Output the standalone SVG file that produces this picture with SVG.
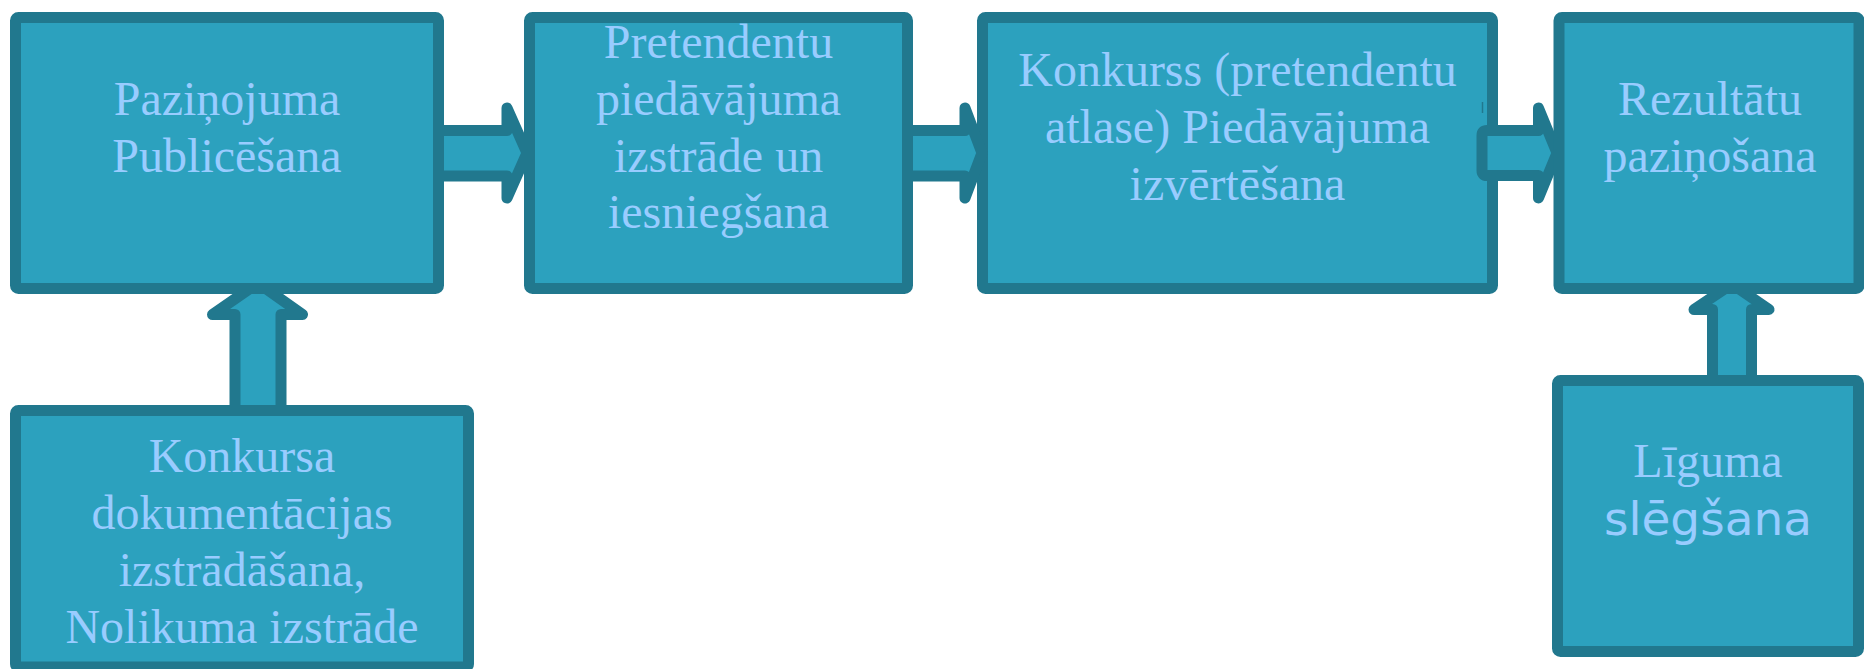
<svg xmlns="http://www.w3.org/2000/svg" width="1864" height="669" viewBox="0 0 1864 669">
<style>
.box{fill:#2CA1BE;stroke:#21788E;stroke-width:11;stroke-linejoin:round}
.arr{fill:#2CA1BE;stroke:#21788E;stroke-width:11;stroke-linejoin:round;stroke-linecap:round}
.t{font-family:"Liberation Serif","Times New Roman",serif;font-size:48px;fill:#99CCFF;text-anchor:middle}
.s{font-family:"DejaVu Sans",sans-serif;font-size:47px;fill:#99CCFF;text-anchor:middle}
</style>
<rect width="1864" height="669" fill="#FFFFFF"/>
<g id="n3"><rect class="box" x="982.5" y="17.5" width="510" height="271" rx="3"/>
<text class="t" x="1237.5" y="86">Konkurss (pretendentu</text><text class="t" x="1237.5" y="143">atlase) Piedāvājuma</text><text class="t" x="1237.5" y="200">izvērtēšana</text></g>
<g id="connectors">
<path class="arr" d="M440,130.5 H507 V108 L527,153 L507,198 V176 H440"/>
<path class="arr" d="M905,130.5 H965 V108 L982,153 L965,198 V176 H905"/>
<path class="arr" d="M1487,130.5 H1538.5 V108 L1557,153 L1538.5,198 V175.5 H1487 Q1482,175.5 1482,170.5 V135.5 Q1482,130.5 1487,130.5 Z"/>
<path class="arr" d="M235,415 V314.5 H212.5 L258,283 L302.5,314.5 H281 V415"/>
<path class="arr" d="M1712.5,385 V309.5 H1694 L1732,284 L1769,309.5 H1751.5 V385"/>
<line x1="1482.5" y1="102" x2="1482.5" y2="113" stroke="#21788E" stroke-width="1.5"/>
</g>
<g id="n1"><rect class="box" x="15.5" y="17.5" width="423" height="271" rx="3"/>
<text class="t" x="227" y="115">Paziņojuma</text><text class="t" x="227" y="172">Publicēšana</text></g>
<g id="n2"><rect class="box" x="529.5" y="17.5" width="378" height="271" rx="3"/>
<text class="t" x="718.5" y="58">Pretendentu</text><text class="t" x="718.5" y="115">piedāvājuma</text><text class="t" x="718.5" y="172">izstrāde un</text><text class="t" x="718.5" y="228">iesniegšana</text></g>
<g id="n4"><rect class="box" x="1559" y="17.5" width="300" height="271" rx="3"/>
<text class="t" x="1710" y="115">Rezultātu</text><text class="t" x="1710" y="172">paziņošana</text></g>
<g id="n5"><rect class="box" x="15.5" y="410.5" width="453" height="256.5" rx="3"/>
<text class="t" x="242" y="472">Konkursa</text><text class="t" x="242" y="529">dokumentācijas</text><text class="t" x="242" y="586">izstrādāšana,</text><text class="t" x="242" y="643">Nolikuma izstrāde</text></g>
<g id="n6"><rect class="box" x="1557.5" y="380.5" width="301" height="271" rx="3"/>
<text class="t" x="1708" y="477">Līguma</text><text class="s" x="1708" y="535">slēgšana</text></g>
</svg>
